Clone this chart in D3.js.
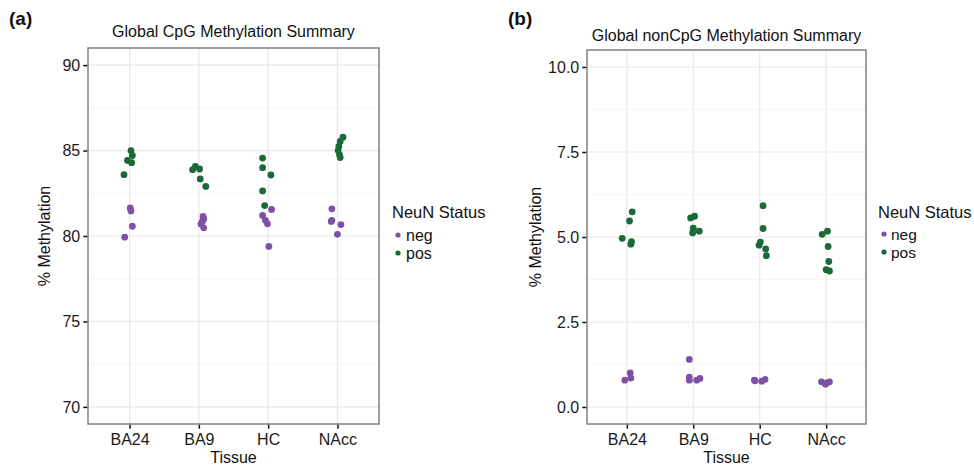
<!DOCTYPE html>
<html>
<head>
<meta charset="utf-8">
<script src="https://cdn.jsdelivr.net/npm/d3@7/dist/d3.min.js"></script>
<style>
  html, body { margin: 0; padding: 0; background: #fff; }
  svg { display: block; font-family: "Liberation Sans", Arial, Helvetica, sans-serif; }
</style>
</head>
<body>
<svg id="chart" width="974" height="470"></svg>
<script>
// ---------------- DATA ----------------
const tissues = ["BA24", "BA9", "HC", "NAcc"];
const statuses = ["neg", "pos"];

// Panel (a): Global CpG methylation (%), one array per tissue
const cpgNegValues = [
  [81.64, 81.47, 80.57, 79.93],
  [81.15, 81.0, 80.85, 80.7, 80.48],
  [81.55, 81.2, 80.92, 80.71, 79.39],
  [81.59, 80.92, 80.85, 80.67, 80.1]
];
const cpgNegJitter = [
  [0.01, 0.02, 0.04, -0.07],
  [0.06, 0.07, 0.05, 0.03, 0.07],
  [0.05, -0.08, -0.04, -0.01, 0.01],
  [-0.08, -0.08, -0.09, 0.05, 0.0]
];
const cpgPosValues = [
  [85.0, 84.71, 84.42, 84.29, 83.59],
  [84.07, 83.92, 83.88, 83.34, 82.9],
  [84.56, 84.0, 83.57, 82.64, 81.78],
  [85.78, 85.53, 85.24, 85.0, 84.75, 84.59]
];
const cpgPosJitter = [
  [0.02, 0.04, -0.03, 0.03, -0.08],
  [-0.05, 0.01, -0.09, 0.02, 0.10],
  [-0.08, -0.08, 0.04, -0.08, -0.05],
  [0.08, 0.04, 0.02, 0.01, 0.03, 0.04]
];

// Panel (b): Global nonCpG methylation (%)
const nonCpgNegValues = [
  [1.0, 0.85, 0.79],
  [1.40, 0.88, 0.79, 0.79, 0.84],
  [0.79, 0.77, 0.76, 0.81],
  [0.74, 0.67, 0.74, 0.71]
];
const nonCpgNegJitter = [
  [0.05, 0.06, -0.03],
  [-0.06, -0.06, -0.06, 0.05, 0.10],
  [-0.08, -0.07, 0.03, 0.08],
  [-0.07, -0.01, 0.05, 0.01]
];
const nonCpgPosValues = [
  [5.74, 5.47, 4.96, 4.86, 4.79],
  [5.61, 5.56, 5.26, 5.17, 5.12],
  [5.92, 5.25, 4.85, 4.76, 4.65, 4.45],
  [5.17, 5.08, 4.72, 4.28, 4.04, 4.0]
];
const nonCpgPosJitter = [
  [0.08, 0.04, -0.07, 0.07, 0.06],
  [0.02, -0.04, 0.0, 0.09, -0.01],
  [0.05, 0.05, 0.01, -0.01, 0.09, 0.10],
  [0.02, -0.06, 0.03, 0.04, 0.0, 0.05]
];

const cpgTicks = [70, 75, 80, 85, 90];
const cpgMinorTicks = [72.5, 77.5, 82.5, 87.5];
const nonCpgTicks = [0, 2.5, 5, 7.5, 10];
const nonCpgMinorTicks = [1.25, 3.75, 6.25, 8.75];

// ---------------- STYLE ----------------
const colors = { neg: "#7f51a6", pos: "#1a6a37" };
const FONT = 16;

const svg = d3.select("#chart");

function buildRows(negV, negJ, posV, posJ) {
  const rows = [];
  tissues.forEach((t, i) => {
    negV[i].forEach((v, k) => rows.push({ tissue: t, status: "neg", value: v, jitter: negJ[i][k] }));
    posV[i].forEach((v, k) => rows.push({ tissue: t, status: "pos", value: v, jitter: posJ[i][k] }));
  });
  return rows;
}

function drawPanel(opt) {
  const { left, right, top, bottom, domain, ticks, minor, fmt, rows, title, titleY, tag, tagX,
          yLabelX, legendX, legendDotX, legendTextX, legendTitleY, legendRowY, legendFont } = opt;

  const g = svg.append("g");
  // point scale with ggplot discrete expansion (0.6 each side)
  const x = d3.scalePoint().domain(tissues).range([left, right]).padding(0.6);
  const step = x.step();
  const y = d3.scaleLinear().domain(domain).range([bottom, top]);

  // minor grid
  g.selectAll(".minor").data(minor).join("line")
    .attr("x1", left).attr("x2", right)
    .attr("y1", d => y(d)).attr("y2", d => y(d))
    .attr("stroke", "#f2f2f2").attr("stroke-width", 0.8);
  // major grid (y)
  g.selectAll(".majory").data(ticks).join("line")
    .attr("x1", left).attr("x2", right)
    .attr("y1", d => y(d)).attr("y2", d => y(d))
    .attr("stroke", "#e8e8e8").attr("stroke-width", 1.2);
  // major grid (x)
  g.selectAll(".majorx").data(tissues).join("line")
    .attr("x1", d => x(d)).attr("x2", d => x(d))
    .attr("y1", top).attr("y2", bottom)
    .attr("stroke", "#e8e8e8").attr("stroke-width", 1.2);

  // points
  g.selectAll(".pt").data(rows).join("circle")
    .attr("cx", d => x(d.tissue) + d.jitter * step)
    .attr("cy", d => y(d.value))
    .attr("r", 3.4)
    .attr("fill", d => colors[d.status]);

  // border
  g.append("rect")
    .attr("x", left).attr("y", top)
    .attr("width", right - left).attr("height", bottom - top)
    .attr("fill", "none").attr("stroke", "#808080").attr("stroke-width", 1.5);

  // y axis
  const yAxis = d3.axisLeft(y).tickValues(ticks).tickFormat(fmt).tickSize(4).tickPadding(3);
  const ya = g.append("g").attr("transform", `translate(${left - 0.75},0)`).call(yAxis);
  ya.select(".domain").remove();
  ya.selectAll(".tick line").attr("stroke", "#111").attr("stroke-width", 1.5);
  ya.selectAll(".tick text").attr("font-size", FONT).attr("fill", "#1a1a1a")
    .attr("font-family", "Liberation Sans, Arial, sans-serif");

  // x axis
  const xAxis = d3.axisBottom(x).tickSize(4).tickPadding(5);
  const xa = g.append("g").attr("transform", `translate(0,${bottom + 0.75})`).call(xAxis);
  xa.select(".domain").remove();
  xa.selectAll(".tick line").attr("stroke", "#111").attr("stroke-width", 1.5);
  xa.selectAll(".tick text").attr("font-size", FONT).attr("fill", "#1a1a1a")
    .attr("font-family", "Liberation Sans, Arial, sans-serif");

  // axis titles
  g.append("text").attr("x", (left + right) / 2).attr("y", 463)
    .attr("text-anchor", "middle").attr("font-size", FONT).attr("fill", "#111").text("Tissue");
  g.append("text")
    .attr("transform", `translate(${yLabelX},${(top + bottom) / 2}) rotate(-90)`)
    .attr("text-anchor", "middle").attr("font-size", FONT).attr("fill", "#111").text("% Methylation");

  // plot title
  g.append("text").attr("x", (left + right) / 2).attr("y", titleY)
    .attr("text-anchor", "middle").attr("font-size", FONT).attr("fill", "#111").text(title);

  // panel tag
  g.append("text").attr("x", tagX).attr("y", 25)
    .attr("font-size", 19).attr("font-weight", "bold").attr("fill", "#111").text(tag);

  // legend
  g.append("text").attr("x", legendX).attr("y", legendTitleY)
    .attr("font-size", 16.5).attr("fill", "#111").text("NeuN Status");
  statuses.forEach((s, i) => {
    g.append("circle").attr("cx", legendDotX).attr("cy", legendRowY[i]).attr("r", 2.6)
      .attr("fill", colors[s]);
    g.append("text").attr("x", legendTextX).attr("y", legendRowY[i] + 5.5)
      .attr("font-size", legendFont).attr("fill", "#111").text(s);
  });
}

drawPanel({
  left: 88, right: 379, top: 48, bottom: 424,
  domain: [69, 91], ticks: cpgTicks, minor: cpgMinorTicks, fmt: d3.format("d"),
  rows: buildRows(cpgNegValues, cpgNegJitter, cpgPosValues, cpgPosJitter),
  title: "Global CpG Methylation Summary", titleY: 37,
  tag: "(a)", tagX: 9, yLabelX: 50,
  legendX: 392, legendDotX: 398, legendTextX: 406, legendTitleY: 218,
  legendRowY: [235, 253], legendFont: 16
});

drawPanel({
  left: 587, right: 866, top: 50, bottom: 424,
  domain: [-0.5, 10.5], ticks: nonCpgTicks, minor: nonCpgMinorTicks, fmt: d3.format(".1f"),
  rows: buildRows(nonCpgNegValues, nonCpgNegJitter, nonCpgPosValues, nonCpgPosJitter),
  title: "Global nonCpG Methylation Summary", titleY: 41,
  tag: "(b)", tagX: 508, yLabelX: 541,
  legendX: 878, legendDotX: 884, legendTextX: 891, legendTitleY: 218,
  legendRowY: [234, 252], legendFont: 15.5
});
</script>
</body>
</html>
